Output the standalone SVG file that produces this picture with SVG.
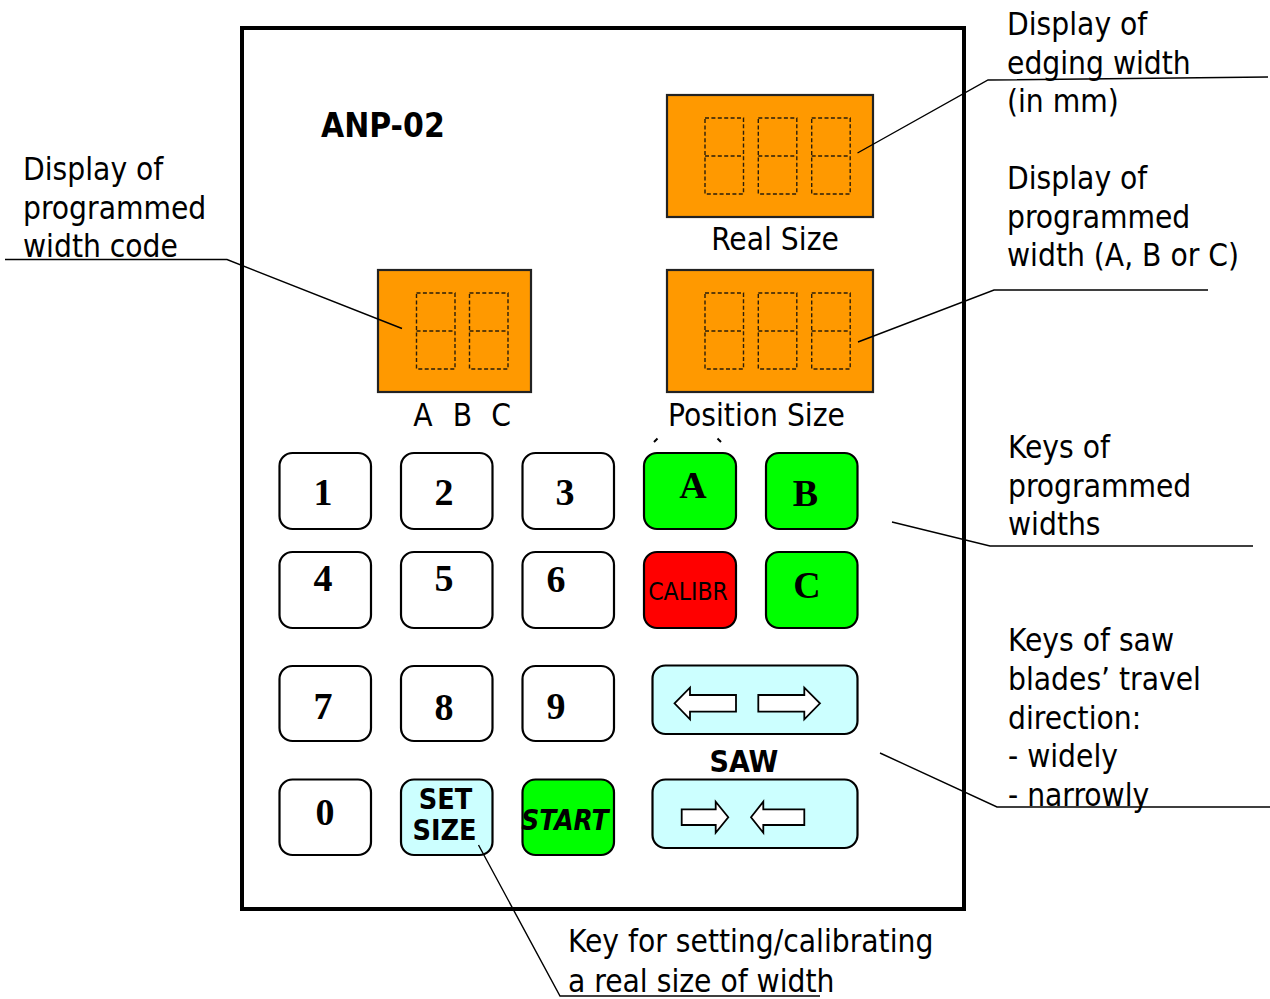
<svg xmlns="http://www.w3.org/2000/svg" width="1270" height="999" viewBox="0 0 1270 999">
<style>
.lbl{font-family:'DejaVu Sans Condensed','DejaVu Sans','Liberation Sans',sans-serif;font-stretch:condensed;font-size:31.4px;fill:#000}
.bold{font-family:'DejaVu Sans Condensed','DejaVu Sans','Liberation Sans',sans-serif;font-stretch:condensed;font-weight:bold;fill:#000}
.dig{font-family:'Liberation Serif','Times New Roman',serif;font-weight:bold;font-size:38px;fill:#000;text-anchor:middle}
.key{stroke:#000;stroke-width:2.2}
.w{fill:#fff}.g{fill:#00ff00}.r{fill:#ff0000}.c{fill:#ccffff}
.disp{fill:#ff9900;stroke:#222;stroke-width:2.2}
.seg{fill:none;stroke:#2a1e0a;stroke-width:1.4;stroke-dasharray:4 2.4}
.arr{fill:#fff;stroke:#000;stroke-width:1.8;stroke-linejoin:miter}
.conn{fill:none;stroke:#000;stroke-width:1.4}
.mid{text-anchor:middle}
</style>
<defs>
<g id="digit">
<rect x="0" y="0" width="38.5" height="76" class="seg"/>
<line x1="0" y1="38" x2="38.5" y2="38" class="seg"/>
</g>
</defs>
<rect x="0" y="0" width="1270" height="999" fill="#fff"/>

<g id="frame">
<rect x="242" y="28" width="722" height="881" fill="none" stroke="#000" stroke-width="4"/>
<text x="321" y="137" class="bold" font-size="33.3">ANP-02</text>
</g>

<g id="display-real-size">
<rect x="667" y="95" width="206" height="122" class="disp"/>
<use href="#digit" x="705" y="118"/>
<use href="#digit" x="758.3" y="118"/>
<use href="#digit" x="811.7" y="118"/>
<text x="775" y="250" class="lbl mid">Real Size</text>
</g>

<g id="display-abc">
<rect x="378" y="270" width="153" height="122" class="disp"/>
<use href="#digit" x="416.5" y="293"/>
<use href="#digit" x="469.5" y="293"/>
<text y="425.7" class="lbl mid"><tspan x="423">A</tspan><tspan x="462.5">B</tspan><tspan x="501">C</tspan></text>
</g>

<g id="display-position-size">
<rect x="667" y="270" width="206" height="122" class="disp"/>
<use href="#digit" x="705" y="293"/>
<use href="#digit" x="758.3" y="293"/>
<use href="#digit" x="811.7" y="293"/>
<text x="756.5" y="425.7" class="lbl mid">Position Size</text>
<path d="M654 442 L657.5 438.5 M717.5 438.5 L721 442" stroke="#000" stroke-width="2" fill="none"/>
</g>

<g id="key-1"><rect x="279.5" y="453" width="91.5" height="76" rx="13" class="key w"/><text x="323" y="505" class="dig">1</text></g>
<g id="key-2"><rect x="401" y="453" width="91.5" height="76" rx="13" class="key w"/><text x="444" y="505" class="dig">2</text></g>
<g id="key-3"><rect x="522.5" y="453" width="91.5" height="76" rx="13" class="key w"/><text x="565" y="505" class="dig">3</text></g>
<g id="key-A"><rect x="644" y="453" width="92" height="76" rx="13" class="key g"/><text x="693" y="498" class="dig" font-size="32">A</text></g>
<g id="key-B"><rect x="766" y="453" width="91.5" height="76" rx="13" class="key g"/><text x="805.5" y="506" class="dig" font-size="39">B</text></g>

<g id="key-4"><rect x="279.5" y="552" width="91.5" height="76" rx="13" class="key w"/><text x="323" y="591" class="dig">4</text></g>
<g id="key-5"><rect x="401" y="552" width="91.5" height="76" rx="13" class="key w"/><text x="444" y="591" class="dig">5</text></g>
<g id="key-6"><rect x="522.5" y="552" width="91.5" height="76" rx="13" class="key w"/><text x="556" y="592" class="dig">6</text></g>
<g id="key-calibr"><rect x="644" y="552" width="92" height="76" rx="13" class="key r"/><text x="688" y="600" class="lbl mid" style="font-size:24.5px">CALIBR</text></g>
<g id="key-C"><rect x="766" y="552" width="91.5" height="76" rx="13" class="key g"/><text x="807" y="598" class="dig" font-size="39">C</text></g>

<g id="key-7"><rect x="279.5" y="666" width="91.5" height="75" rx="13" class="key w"/><text x="323" y="719" class="dig">7</text></g>
<g id="key-8"><rect x="401" y="666" width="91.5" height="75" rx="13" class="key w"/><text x="444" y="720" class="dig">8</text></g>
<g id="key-9"><rect x="522.5" y="666" width="91.5" height="75" rx="13" class="key w"/><text x="556" y="719" class="dig">9</text></g>

<g id="key-saw-widely">
<rect x="652.5" y="665.5" width="205" height="68.5" rx="13" class="key c"/>
<path d="M674.5 703.3 L690 687.7 L690 695 L736 695 L736 711.7 L690 711.7 L690 719.3 Z" class="arr"/>
<path d="M820 703.3 L804.3 687.7 L804.3 695 L758.3 695 L758.3 711.7 L804.3 711.7 L804.3 719.3 Z" class="arr"/>
</g>
<text id="saw-label" x="744" y="772" class="bold mid" font-size="30">SAW</text>

<g id="key-0"><rect x="279.5" y="779.5" width="91.5" height="75.5" rx="13" class="key w"/><text x="325" y="825" class="dig">0</text></g>
<g id="key-set-size">
<rect x="401" y="779.5" width="91.5" height="75.5" rx="13" class="key c"/>
<text class="bold mid" font-size="28.5"><tspan x="445.5" y="808.5">SET</tspan><tspan x="444.5" y="840">SIZE</tspan></text>
</g>
<g id="key-start">
<rect x="522.5" y="779.5" width="91.5" height="75.5" rx="13" class="key g"/>
<text x="565" y="829.5" class="bold mid" font-size="27.8" font-style="italic">START</text>
</g>
<g id="key-saw-narrowly">
<rect x="652.5" y="779.5" width="205" height="68.5" rx="13" class="key c"/>
<path d="M728.3 817.2 L715.7 801.7 L715.7 809.3 L681.7 809.3 L681.7 825 L715.7 825 L715.7 832.7 Z" class="arr"/>
<path d="M751 817.2 L763.3 801.7 L763.3 809.3 L804.3 809.3 L804.3 825 L763.3 825 L763.3 832.7 Z" class="arr"/>
</g>

<g id="connectors">
<polyline points="1268,77 988,80 857.5,153" class="conn"/>
<polyline points="1208,290 994,290 858,342" class="conn"/>
<polyline points="5,259.5 227,259.5 402,328.5" class="conn"/>
<polyline points="1253,546 990,546 892,522" class="conn"/>
<polyline points="1270,807 997,807 880,753" class="conn"/>
<polyline points="478.5,845 560,996 820,996" class="conn"/>
</g>

<g id="callout-edging-width">
<text class="lbl"><tspan x="1007" y="35">Display of</tspan><tspan x="1007" y="73.5">edging width</tspan><tspan x="1007" y="112">(in mm)</tspan></text>
</g>
<g id="callout-programmed-width">
<text class="lbl"><tspan x="1007" y="189">Display of</tspan><tspan x="1007" y="227.5">programmed</tspan><tspan x="1007" y="266">width (A, B or C)</tspan></text>
</g>
<g id="callout-width-code">
<text class="lbl"><tspan x="23" y="180">Display of</tspan><tspan x="23" y="218.5">programmed</tspan><tspan x="23" y="257">width code</tspan></text>
</g>
<g id="callout-keys-widths">
<text class="lbl"><tspan x="1008" y="458.3">Keys of</tspan><tspan x="1008" y="496.8">programmed</tspan><tspan x="1008" y="535.3">widths</tspan></text>
</g>
<g id="callout-saw-keys">
<text class="lbl"><tspan x="1008" y="651">Keys of saw</tspan><tspan x="1008" y="689.8">blades’ travel</tspan><tspan x="1008" y="728.6">direction:</tspan><tspan x="1008" y="767.4">- widely</tspan><tspan x="1008" y="806">- narrowly</tspan></text>
</g>
<g id="callout-set-size">
<text class="lbl"><tspan x="568" y="952">Key for setting/calibrating</tspan><tspan x="568" y="991.7">a real size of width</tspan></text>
</g>
</svg>
